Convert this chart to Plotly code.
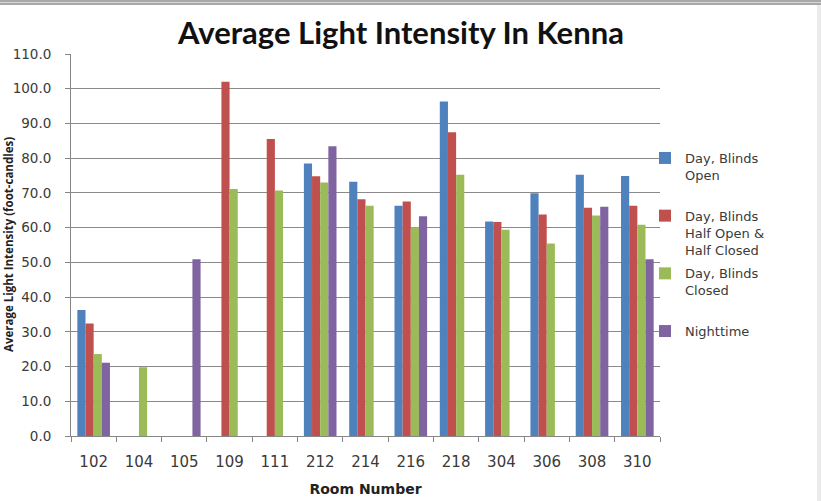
import plotly.graph_objects as go

rooms = ["102", "104", "105", "109", "111", "212", "214", "216", "218", "304", "306", "308", "310"]
blinds_open = [36.3, None, None, None, None, 78.5, 73.2, 66.3, 96.3, 61.8, 69.9, 75.2, 74.9]
blinds_half = [32.4, None, None, 102.0, 85.5, 74.8, 68.2, 67.5, 87.5, 61.6, 63.8, 65.7, 66.3]
blinds_closed = [23.6, 19.8, None, 71.1, 70.7, 73.0, 66.3, 60.1, 75.2, 59.4, 55.4, 63.5, 60.8]
nighttime = [21.1, None, 50.9, None, None, 83.4, None, 63.3, None, None, None, 66.0, 50.9]

series_names = ["Day, Blinds<br>Open<br> ", "Day, Blinds<br>Half Open &<br>Half Closed",
                "Day, Blinds<br>Closed<br> ", "Nighttime<br> <br> "]
series_values = [blinds_open, blinds_half, blinds_closed, nighttime]
colors = ["#4F81BD", "#C0504D", "#9BBB59", "#8064A2"]

fig = go.Figure()
for i, (name, vals, c) in enumerate(zip(series_names, series_values, colors)):
    fig.add_trace(go.Bar(x=rooms, y=vals, name=name, legendgroup="g%d" % i,
                         marker=dict(color=c, line=dict(width=0))))

W, H = 821, 501
L, R, T, B = 71, 161, 54, 65
pw = W - L - R
ph = H - T - B

fig.update_layout(
    width=W, height=H,
    margin=dict(l=L, r=R, t=T, b=B, autoexpand=False),
    paper_bgcolor="white", plot_bgcolor="white",
    barmode="group", bargap=0.28, bargroupgap=0,
    font=dict(family="DejaVu Sans, sans-serif", color="#3a3a3a", size=13),
    title=dict(text="<b>Average Light Intensity In Kenna</b>", x=(401 - L) / pw, xref="paper",
               xanchor="center", y=1 - 33 / H, yanchor="middle",
               font=dict(family="Lato, sans-serif", size=31, color="#111111")),
    legend=dict(x=(645 - L) / pw, y=(436 - 143) / ph, xanchor="left", yanchor="top",
                font=dict(family="DejaVu Sans, sans-serif", size=13, color="#3a3a3a"), valign="top",
                tracegroupgap=4, itemwidth=30, bgcolor="rgba(0,0,0,0)"),
    showlegend=True,
    xaxis=dict(type="category", showline=True, linecolor="#868686", linewidth=1, automargin=False,
               ticks="outside", tickson="boundaries", ticklen=5, tickcolor="#868686",
               tickfont=dict(size=15), showgrid=False, ticklabelstandoff=12,
               title=dict(text="<b>Room Number</b>", font=dict(size=14, color="#222222"), standoff=14)),
    yaxis=dict(range=[0, 110], dtick=10, tickformat=".1f", showline=True, linecolor="#868686",
               linewidth=1, ticks="outside", ticklen=5, tickcolor="#868686", ticklabelstandoff=11,
               automargin=False,
               gridcolor="#8a8a8a", gridwidth=1, tickfont=dict(size=13.5), zeroline=False),
    annotations=[dict(text="<b>Average Light Intensity (foot-candles)</b>", textangle=-90,
                      xref="paper", yref="paper", x=(8 - L) / pw, y=0.5,
                      xanchor="center", yanchor="middle", showarrow=False,
                      font=dict(family="Open Sans, sans-serif", size=11.5, color="#222222"))],
    shapes=[
        dict(type="rect", xref="paper", yref="paper", x0=-L / pw, x1=(W - L) / pw,
             y0=1 + (T - 5) / ph, y1=1 + T / ph, fillcolor="#a8a8a8", line=dict(width=0), layer="above"),
        dict(type="rect", xref="paper", yref="paper", x0=-L / pw, x1=(W - L) / pw,
             y0=1 + (T - 3) / ph, y1=1 + (T - 2) / ph, fillcolor="#d8d8d8", line=dict(width=0), layer="above"),
        dict(type="rect", xref="paper", yref="paper", x0=(W - 4 - L) / pw, x1=(W - L) / pw,
             y0=-B / ph, y1=1 + (T - 5) / ph, fillcolor="#ebebeb", line=dict(width=0), layer="above"),
    ],
)

fig.write_html("out.html", config={"displayModeBar": False},
               post_script="document.body.style.margin='0';")
